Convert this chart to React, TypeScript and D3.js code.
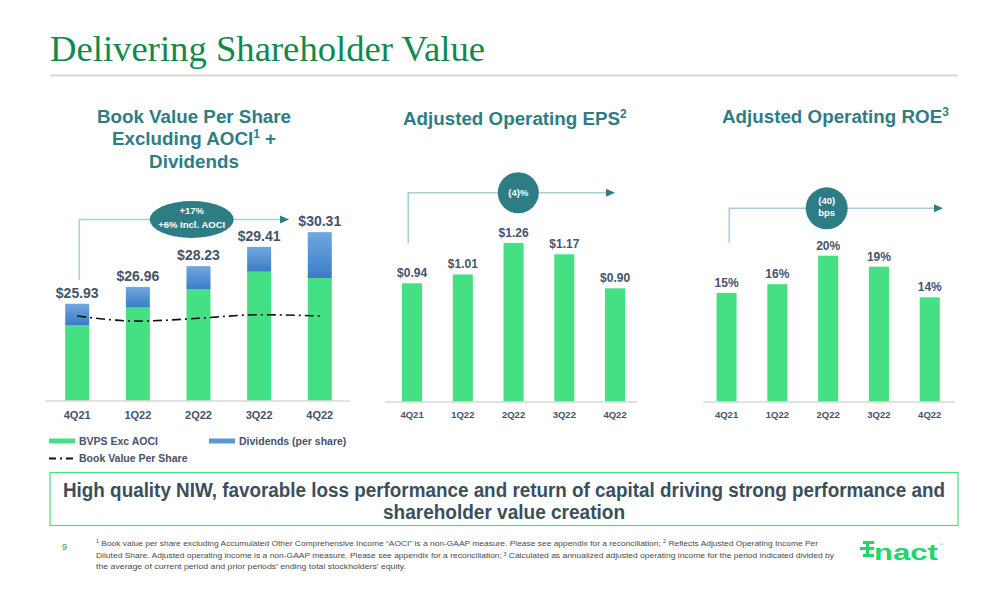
import React from "react";
import * as d3 from "d3";

const quarters = ["4Q21", "1Q22", "2Q22", "3Q22", "4Q22"];
const bvpsExAoci = [24.63, 25.7, 26.83, 27.89, 27.5];
const dividends = [1.3, 1.26, 1.4, 1.52, 2.81];
const bookValuePerShare = [25.18, 24.87, 25.04, 25.26, 25.18];
const epsValues = [0.94, 1.01, 1.26, 1.17, 0.9];
const roeValues = [14.9, 16.1, 20.0, 18.5, 14.3];

const GREEN = "#45e083";
const TEAL = "#2e7d85";
const LINE_TEAL = "#a9cfd2";
const SLATE = "#44546a";
const FONT = "'Liberation Sans', Arial, sans-serif";
const NARROW = "'Liberation Sans Narrow', 'Liberation Sans', Arial, sans-serif";

function Arrow({ x0, y0, yTop, x1 }: { x0: number; y0: number; yTop: number; x1: number }) {
  return (
    <g>
      <path d={`M${x0},${y0} V${yTop} H${x1 - 8}`} fill="none" stroke={LINE_TEAL} strokeWidth={1.6} />
      <path d={`M${x1 - 9},${yTop - 4} L${x1},${yTop} L${x1 - 9},${yTop + 4} Z`} fill={TEAL} />
    </g>
  );
}

export default function App() {
  // Chart 1
  const x1 = d3.scaleBand<string>().domain(quarters).range([46.9, 350.1]).paddingInner(0.604).paddingOuter(0.302);
  const y1 = d3.scaleLinear().domain([20, 32]).range([400.7, 400.7 - 12 * 16.35]);
  const yMin1 = y1.domain()[0];
  const stackData = quarters.map((q, i) => ({ q, bvps: bvpsExAoci[i], div: dividends[i] }));
  const stack = d3.stack<any>().keys(["bvps", "div"])(stackData);
  const bvLine = d3
    .line<number>()
    .x((_, i) => (x1(quarters[i]) as number) + x1.bandwidth() / 2)
    .y((d) => y1(d))
    .curve(d3.curveMonotoneX);

  // Chart 2
  const x2 = d3.scaleBand<string>().domain(quarters).range([386.8, 640.3]).paddingInner(0.605).paddingOuter(0.3);
  const y2 = d3.scaleLinear().domain([0, 1.5]).range([401.7, 401.7 - 1.5 * 126]);

  // Chart 3
  const x3 = d3.scaleBand<string>().domain(quarters).range([701.3, 955]).paddingInner(0.605).paddingOuter(0.3);
  const y3 = d3.scaleLinear().domain([0, 25]).range([401.7, 401.7 - 25 * 7.3]);

  const totals = quarters.map((_, i) => bvpsExAoci[i] + dividends[i]);

  return (
    <svg width={1008} height={612} style={{ position: "absolute", left: 0, top: 0, background: "#fff" }} fontFamily={FONT}>
      <rect width={1008} height={612} fill="#fff" />
      {/* Page title */}
      <text x={50} y={61} fontFamily="'Liberation Serif', 'Times New Roman', serif" fontSize={36} fill="#0f8a4c" textLength={435} lengthAdjust="spacingAndGlyphs">
        Delivering Shareholder Value
      </text>
      <line x1={50} x2={958} y1={75.5} y2={75.5} stroke="#d6d6d6" strokeWidth={2} />

      {/* Chart titles */}
      <g fontWeight="bold" fontSize={18.8} fill={TEAL}>
        <g textAnchor="middle">
          <text x={194} y={122.5}>Book Value Per Share</text>
          <text x={194} y={145}>
            Excluding AOCI<tspan fontSize={12} dy={-7}>1</tspan>
            <tspan dy={7}> +</tspan>
          </text>
          <text x={194} y={167.5}>Dividends</text>
        </g>
        <text x={403} y={125}>
          Adjusted Operating EPS<tspan fontSize={12} dy={-7}>2</tspan>
        </text>
        <text x={722} y={123}>
          Adjusted Operating ROE<tspan fontSize={12} dy={-7}>3</tspan>
        </text>
      </g>

      {/* Chart 1 bars */}
      <defs>
        <linearGradient id="divGrad" x1="0" y1="0" x2="0" y2="1">
          <stop offset="0%" stopColor="#70a9e0" />
          <stop offset="100%" stopColor="#3b7cc6" />
        </linearGradient>
      </defs>
      {stack[0].map((d, i) => (
        <rect key={"g" + i} x={x1(quarters[i])} width={x1.bandwidth()} y={y1(d[1])} height={y1(Math.max(d[0], yMin1)) - y1(d[1])} fill={GREEN} />
      ))}
      {stack[1].map((d, i) => (
        <rect key={"b" + i} x={x1(quarters[i])} width={x1.bandwidth()} y={y1(d[1])} height={y1(d[0]) - y1(d[1])} fill="url(#divGrad)" />
      ))}
      <path d={bvLine(bookValuePerShare) || ""} fill="none" stroke="#111" strokeWidth={1.6} strokeDasharray="9,4,2,4" />
      <line x1={45} x2={350} y1={401} y2={401} stroke="#d9d9d9" strokeWidth={1.5} />
      {quarters.map((q, i) => (
        <text key={"t1" + i} x={(x1(q) as number) + x1.bandwidth() / 2} y={y1(totals[i]) - 6} textAnchor="middle" fontWeight="bold" fontSize={14} fill={SLATE}>
          ${totals[i].toFixed(2)}
        </text>
      ))}
      {quarters.map((q, i) => (
        <text key={"c1" + i} x={(x1(q) as number) + x1.bandwidth() / 2} y={419} textAnchor="middle" fontWeight="bold" fontSize={11} fill={SLATE}>
          {q}
        </text>
      ))}
      <Arrow x0={79.3} y0={280} yTop={219.5} x1={289} />
      <ellipse cx={191.7} cy={219.5} rx={42} ry={18.5} fill={TEAL} />
      <text x={191.7} y={214} textAnchor="middle" fontWeight="bold" fontSize={9.5} fill="#fff">+17%</text>
      <text x={191.7} y={228} textAnchor="middle" fontWeight="bold" fontSize={9.5} fill="#fff">+6% Incl. AOCI</text>

      {/* Legend */}
      <rect x={49} y={438.5} width={26} height={5} fill={GREEN} />
      <text x={79} y={445} fontWeight="bold" fontSize={10.5} fill={SLATE}>BVPS Exc AOCI</text>
      <rect x={209} y={438.5} width={26} height={5} fill="#5a96d8" />
      <text x={239} y={445} fontWeight="bold" fontSize={10.5} fill={SLATE}>Dividends (per share)</text>
      <line x1={49} x2={73} y1={458.5} y2={458.5} stroke="#111" strokeWidth={1.8} strokeDasharray="7,4,2,4" />
      <text x={79} y={462} fontWeight="bold" fontSize={10.5} fill={SLATE}>Book Value Per Share</text>

      {/* Chart 2 */}
      {epsValues.map((v, i) => (
        <rect key={"e" + i} x={x2(quarters[i])} width={x2.bandwidth()} y={y2(v)} height={y2(0) - y2(v)} fill={GREEN} />
      ))}
      <line x1={385} x2={637} y1={402} y2={402} stroke="#d9d9d9" strokeWidth={1.5} />
      {epsValues.map((v, i) => (
        <text key={"et" + i} x={(x2(quarters[i]) as number) + x2.bandwidth() / 2} y={y2(v) - 6} textAnchor="middle" fontWeight="bold" fontSize={12} fill={SLATE}>
          ${v.toFixed(2)}
        </text>
      ))}
      {quarters.map((q, i) => (
        <text key={"c2" + i} x={(x2(q) as number) + x2.bandwidth() / 2} y={418} textAnchor="middle" fontWeight="bold" fontSize={9.5} fill={SLATE}>
          {q}
        </text>
      ))}
      <Arrow x0={408.3} y0={243.3} yTop={192.7} x1={615} />
      <circle cx={518.3} cy={192.7} r={20.5} fill={TEAL} />
      <text x={518.3} y={196} textAnchor="middle" fontWeight="bold" fontSize={9.5} fill="#fff">(4)%</text>

      {/* Chart 3 */}
      {roeValues.map((v, i) => (
        <rect key={"r" + i} x={x3(quarters[i])} width={x3.bandwidth()} y={y3(v)} height={y3(0) - y3(v)} fill={GREEN} />
      ))}
      <line x1={703} x2={955} y1={402} y2={402} stroke="#d9d9d9" strokeWidth={1.5} />
      {roeValues.map((v, i) => (
        <text key={"rt" + i} x={(x3(quarters[i]) as number) + x3.bandwidth() / 2} y={y3(v) - 6} textAnchor="middle" fontWeight="bold" fontSize={12} fill={SLATE}>
          {Math.round(v)}%
        </text>
      ))}
      {quarters.map((q, i) => (
        <text key={"c3" + i} x={(x3(q) as number) + x3.bandwidth() / 2} y={418} textAnchor="middle" fontWeight="bold" fontSize={9.5} fill={SLATE}>
          {q}
        </text>
      ))}
      <Arrow x0={729.3} y0={242.7} yTop={208.3} x1={943} />
      <circle cx={826.7} cy={208.3} r={21} fill={TEAL} />
      <text x={826.7} y={204} textAnchor="middle" fontWeight="bold" fontSize={9.5} fill="#fff">(40)</text>
      <text x={826.7} y={216} textAnchor="middle" fontWeight="bold" fontSize={9.5} fill="#fff">bps</text>

      {/* Callout box */}
      <rect x={50} y={472.5} width={908} height={53} fill="#fff" stroke="#45e083" strokeWidth={1.2} />
      <g fontFamily={NARROW} fontWeight="bold" fontSize={19.5} fill="#3a4f5c" textAnchor="middle">
        <text x={504} y={497} textLength={882} lengthAdjust="spacingAndGlyphs">
          High quality NIW, favorable loss performance and return of capital driving strong performance and
        </text>
        <text x={504} y={518.5} textLength={242} lengthAdjust="spacingAndGlyphs">shareholder value creation</text>
      </g>

      {/* Footnotes */}
      <text x={62} y={550} fontSize={9} fill="#1a9a50">9</text>
      <g fontFamily={NARROW} fontSize={7.8} fill="#4a4a4a">
        <text x={96} y={545.5} textLength={722} lengthAdjust="spacingAndGlyphs">
          <tspan fontSize={5} dy={-2.5}>1</tspan>
          <tspan dy={2.5}> Book value per share excluding Accumulated Other Comprehensive Income “AOCI” is a non-GAAP measure. Please see appendix for a reconciliation; </tspan>
          <tspan fontSize={5} dy={-2.5}>2</tspan>
          <tspan dy={2.5}> Reflects Adjusted Operating Income Per</tspan>
        </text>
        <text x={96} y={557.5} textLength={738} lengthAdjust="spacingAndGlyphs">
          Diluted Share. Adjusted operating income is a non-GAAP measure. Please see appendix for a reconciliation;
          <tspan fontSize={5} dy={-2}> 3</tspan>
          <tspan dy={2}> Calculated as annualized adjusted operating income for the period indicated divided by</tspan>
        </text>
        <text x={96} y={568.5} textLength={310} lengthAdjust="spacingAndGlyphs">
          the average of current period and prior periods’ ending total stockholders’ equity.
        </text>
      </g>

      {/* Logo */}
      <g>
        <text x={874} y={560} fontWeight="bold" fontSize={22} fill="#22d46b" fontFamily="'Liberation Sans', Arial, sans-serif" textLength={64} lengthAdjust="spacingAndGlyphs">nact</text>
        <rect x={860} y={547} width={14} height={3} fill="#22d46b" />
        <rect x={863} y={541} width={11} height={3} fill="#22d46b" />
        <rect x={863} y={554} width={11} height={3} fill="#22d46b" />
        <rect x={866} y={541} width={3} height={16} fill="#22d46b" />
        <text x={939} y={546} fontSize={4} fill="#22d46b">™</text>
      </g>
    </svg>
  );
}
